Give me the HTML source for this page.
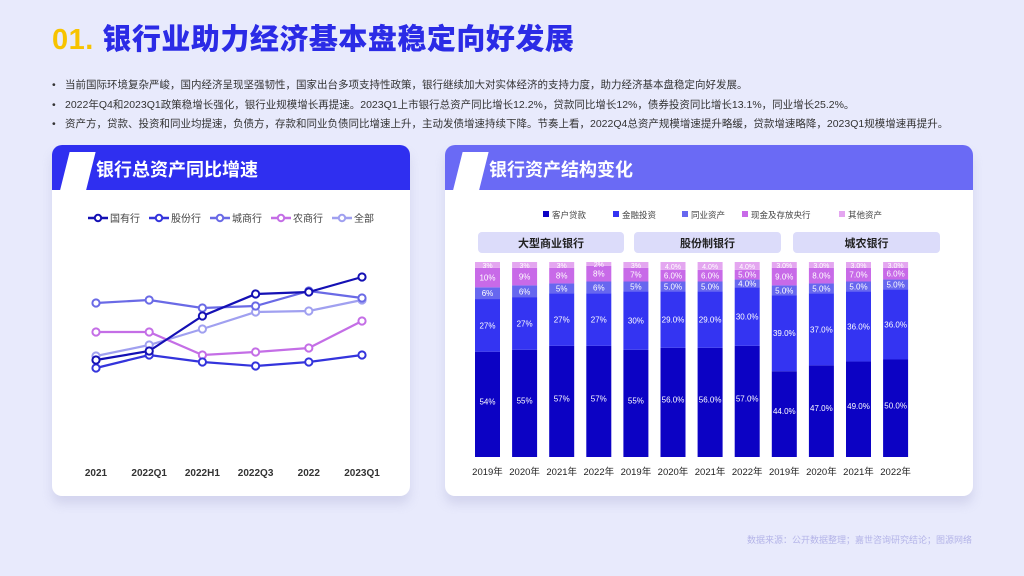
<!DOCTYPE html>
<html><head><meta charset="utf-8">
<style>
*{margin:0;padding:0;box-sizing:border-box}
body{width:1024px;height:576px;background:#e8eafc;font-family:"Liberation Sans","Noto Sans CJK SC",sans-serif;position:relative;overflow:hidden}
.title{position:absolute;left:52px;top:16px;font-size:29px;font-weight:900;color:#2b2be6;letter-spacing:0.5px}
.title span{color:#f7c300}
.bul{position:absolute;left:52px;font-size:10.5px;color:#333;white-space:nowrap}
.bul b{display:inline-block;width:13px;font-weight:normal}
.card{position:absolute;background:#fff;border-radius:10px;box-shadow:0 8px 10px rgba(150,150,200,0.25);overflow:hidden}
.hdr{position:absolute;left:0;top:0;right:0;height:45px;color:#fff;font-size:18px;font-weight:bold}
.hdr .t{position:absolute;left:44px;top:11px}
.slash{position:absolute;left:12px;top:7px;width:26px;height:45px;background:#fff;transform:skewX(-14deg)}
.foot{position:absolute;right:52px;top:533px;font-size:9px;color:#b4b4e8}
</style></head><body>
<div class="title"><span>01.</span> 银行业助力经济基本盘稳定向好发展</div>
<div class="bul" style="top:77px"><b>•</b>当前国际环境复杂严峻，国内经济呈现坚强韧性，国家出台多项支持性政策，银行继续加大对实体经济的支持力度，助力经济基本盘稳定向好发展。</div>
<div class="bul" style="top:97px"><b>•</b>2022年Q4和2023Q1政策稳增长强化，银行业规模增长再提速。2023Q1上市银行总资产同比增长12.2%，贷款同比增长12%，债券投资同比增长13.1%，同业增长25.2%。</div>
<div class="bul" style="top:116px"><b>•</b>资产方，贷款、投资和同业均提速，负债方，存款和同业负债同比增速上升，主动发债增速持续下降。节奏上看，2022Q4总资产规模增速提升略缓，贷款增速略降，2023Q1规模增速再提升。</div>

<div class="card" style="left:52px;top:145px;width:358px;height:351px">
 <div class="hdr" style="background:#2f2ff0"><div class="slash"></div><div class="t">银行总资产同比增速</div></div>
 <svg id="lc" width="358" height="306" style="position:absolute;left:0;top:45px"></svg>
</div>

<div class="card" style="left:445px;top:145px;width:528px;height:351px">
 <div class="hdr" style="background:#6a6af5"><div class="slash"></div><div class="t">银行资产结构变化</div></div>
 <svg id="bc" width="528" height="306" style="position:absolute;left:0;top:45px"></svg>
</div>
<div class="foot">数据来源：公开数据整理；嘉世咨询研究结论；图源网络</div>

<script>
const NS="http://www.w3.org/2000/svg";
function mk(p,t,a,txt){const e=document.createElementNS(NS,t);for(const k in a)e.setAttribute(k,a[k]);if(txt!==undefined)e.textContent=txt;p.appendChild(e);return e;}

// ---- line chart data ----
const lineCats=["2021","2022Q1","2022H1","2022Q3","2022","2023Q1"];
const lineNames=["国有行","股份行","城商行","农商行","全部"];
const sGuoyou=[6.2,7.1,10.6,12.8,13.0,14.5];
const sGufen=[5.4,6.7,6.0,5.6,6.0,6.7];
const sChengshang=[11.9,12.2,11.4,11.6,13.1,12.4];
const sNongshang=[9.0,9.0,6.7,7.0,7.4,10.1];
const sAll=[6.6,7.7,9.3,11.0,11.1,12.2];
const lineSeries=[sGuoyou,sGufen,sChengshang,sNongshang,sAll];
const lineColors=["#1410b4","#3434dc","#6a6ae6","#c46ee6","#a0a0f0"];

(function(){
 const svg=document.getElementById('lc');
 const x=i=>44+i*53.2;
 const y=v=>(422-145-45)-v*10;
 let lx=36;
 lineNames.forEach((n,k)=>{
  const g=mk(svg,'g',{});
  
  
  mk(g,'line',{x1:lx,y1:28,x2:lx+20,y2:28,stroke:lineColors[k],'stroke-width':2.5});
  mk(g,'circle',{cx:lx+10,cy:28,r:3.2,fill:'#fff',stroke:lineColors[k],'stroke-width':2});
  mk(g,'text',{x:lx+22,y:32,'font-size':10,fill:'#444'},n);
  lx+= n.length===2?53:61;
 });
 lineSeries.slice().reverse().forEach((s,rk)=>{
  const k=lineSeries.length-1-rk;
  const pl=mk(svg,'polyline',{points:s.map((v,i)=>x(i)+','+y(v)).join(' '),fill:'none',stroke:lineColors[k],'stroke-width':2.2});
  
  
  s.forEach((v,i)=>{
   const c=mk(svg,'circle',{cx:x(i),cy:y(v),r:3.6,fill:'#fff',stroke:lineColors[k],'stroke-width':2});
   
   
  });
 });
 lineCats.forEach((c,i)=>{
  const t=mk(svg,'text',{x:x(i),y:286,'font-size':10,'font-weight':'bold',fill:'#333','text-anchor':'middle'},c);
  
  
 });
})();

// ---- bar chart data ----
const barGroups=["大型商业银行","股份制银行","城农银行"];
const barYears=["2019年","2020年","2021年","2022年"];
const segNames=["客户贷款","金融投资","同业资产","现金及存放央行","其他资产"];
const sLoans=[54,55,57,57,55,56,56,57,44,47,49,50];
const sInvest=[27,27,27,27,30,29,29,30,39,37,36,36];
const sInterbank=[6,6,5,6,5,5,5,4,5,5,5,5];
const sCash=[10,9,8,8,7,6,6,5,9,8,7,6];
const sOther=[3,3,3,2,3,4,4,4,3,3,3,3];
const barDecimals=[0,0,0,0,0,1,1,1,1,1,1,1];
const barSeries=[sLoans,sInvest,sInterbank,sCash,sOther];
const segColors=["#0c02c4","#3434f2","#6767ef","#c86ae8","#e4a6f0"];

(function(){
 const svg=document.getElementById('bc');
 const ox=445, oy=190;
 const bx=i=>475+i*37.1-ox;
 const bw=25;
 const base=457-oy, H=195;
 const h=v=>v/100*H;
 const lxs=[98,168,237,297,394];
 segNames.forEach((n,k)=>{
  const g=mk(svg,'g',{});
  
  
  mk(g,'rect',{x:lxs[k],y:21,width:6,height:6,fill:segColors[k]});
  mk(g,'text',{x:lxs[k]+9,y:28,'font-size':8.5,fill:'#444'},n);
 });
 const gx=[33,189,348], gw=[146,147,147];
 barGroups.forEach((n,k)=>{
  const r=mk(svg,'rect',{x:gx[k],y:42,width:gw[k],height:21,rx:4,fill:'#dcdcfa'});
  
  
  mk(svg,'text',{x:gx[k]+gw[k]/2,y:57,'font-size':11,'font-weight':'bold',fill:'#222','text-anchor':'middle'},n);
 });
 barYears.concat(barYears,barYears).forEach((yr,i)=>{
  let acc=0;
  barSeries.forEach((s,k)=>{
   const v=s[i];
   const r=mk(svg,'rect',{x:bx(i),y:base-h(acc+v),width:bw,height:h(v),fill:segColors[k]});
   
   
   const lbl=v.toFixed(barDecimals[i])+'%';
   const cy=k===0? base-h(acc+v)+h(v)*0.5 : base-h(acc+v/2)+3;
   mk(svg,'text',{x:bx(i)+bw/2,y:cy,'font-size':k===4?7:8,fill:'#fff','text-anchor':'middle'},lbl);
   acc+=v;
  });
  mk(svg,'text',{x:bx(i)+bw/2,y:472-oy+3,'font-size':9.5,fill:'#222','text-anchor':'middle'},yr);
 });
})();
</script>
</body></html>
